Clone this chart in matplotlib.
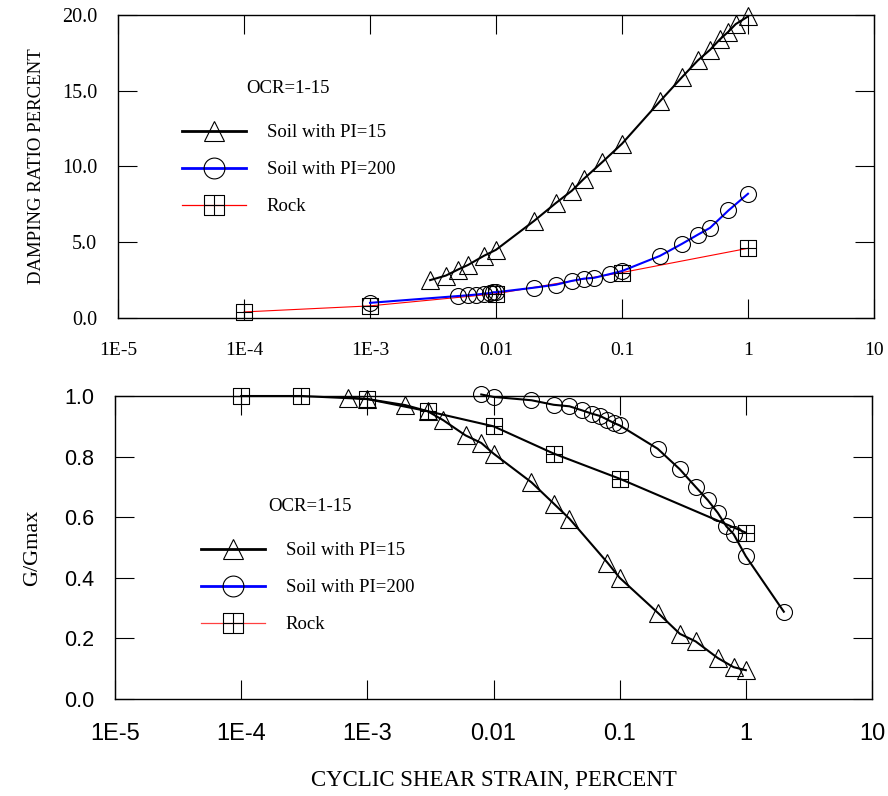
import matplotlib
matplotlib.use("Agg")
import matplotlib.pyplot as plt
from matplotlib.lines import Line2D
from matplotlib.path import Path

SERIF = "Liberation Serif"
SANS = "Liberation Sans"

# x tick positions / labels (cyclic shear strain, percent)
x_ticks = [1e-5, 1e-4, 1e-3, 1e-2, 1e-1, 1, 10]
x_labels = ["1E-5", "1E-4", "1E-3", "0.01", "0.1", "1", "10"]

# damping ratio (top panel)
d_pi15_x = [0.003, 0.004, 0.005, 0.006, 0.008, 0.01, 0.02, 0.03, 0.04, 0.05,
            0.07, 0.1, 0.2, 0.3, 0.4, 0.5, 0.6, 0.7, 0.8, 1.0]
d_pi15_y = [2.5, 2.8, 3.2, 3.5, 4.1, 4.5, 6.4, 7.6, 8.4, 9.2,
            10.3, 11.5, 14.3, 15.9, 17.0, 17.7, 18.4, 18.9, 19.4, 19.9]

d_pi200_x = [0.001, 0.005, 0.006, 0.007, 0.008, 0.009, 0.0095, 0.01, 0.02, 0.03,
             0.04, 0.05, 0.06, 0.08, 0.1, 0.2, 0.3, 0.4, 0.5, 0.7, 1.0]
d_pi200_y = [1.0, 1.45, 1.5, 1.55, 1.6, 1.65, 1.7, 1.7, 2.0, 2.2,
             2.45, 2.6, 2.65, 2.9, 3.1, 4.1, 4.9, 5.5, 5.95, 7.1, 8.2]

d_rock_x = [1e-4, 1e-3, 0.01, 0.1, 1.0]
d_rock_y = [0.4, 0.8, 1.6, 3.0, 4.6]

# modulus reduction G/Gmax (bottom panel)
g_pi15_x = [0.0007, 0.001, 0.002, 0.003, 0.004, 0.006, 0.008, 0.01, 0.02, 0.03,
            0.04, 0.08, 0.1, 0.2, 0.3, 0.4, 0.6, 0.8, 1.0]
g_pi15_y = [0.995, 0.99, 0.97, 0.95, 0.92, 0.87, 0.845, 0.81, 0.715, 0.645,
            0.595, 0.45, 0.40, 0.285, 0.215, 0.19, 0.135, 0.105, 0.095]

g_pi200_x = [0.008, 0.01, 0.02, 0.03, 0.04, 0.05, 0.06, 0.07, 0.08, 0.09,
             0.1, 0.2, 0.3, 0.4, 0.5, 0.6, 0.7, 0.8, 1.0, 2.0]
g_pi200_y = [1.005, 0.997, 0.986, 0.971, 0.966, 0.953, 0.942, 0.934, 0.922, 0.911,
             0.903, 0.826, 0.758, 0.70, 0.656, 0.614, 0.57, 0.544, 0.471, 0.288]

g_rock_x = [1e-4, 3e-4, 1e-3, 3e-3, 0.01, 0.03, 0.1, 1.0]
g_rock_y = [1.0, 1.0, 0.99, 0.95, 0.90, 0.81, 0.727, 0.549]

series_labels = ["Soil with PI=15", "Soil with PI=200", "Rock"]
legend_title = "OCR=1-15"

# square with a cross inside
box_cross = Path(
    [(-1, -1), (1, -1), (1, 1), (-1, 1), (-1, -1), (0, -1), (0, 1), (-1, 0), (1, 0)],
    [Path.MOVETO, Path.LINETO, Path.LINETO, Path.LINETO, Path.CLOSEPOLY,
     Path.MOVETO, Path.LINETO, Path.MOVETO, Path.LINETO],
)

MEW = 0.8
mk = dict(mfc="none", mec="black", mew=MEW, clip_on=False)


def style_axes(ax, ylim, yticks, yfmt, yfont, xfont):
    ax.set_xscale("log")
    ax.set_xlim(1e-5, 10)
    ax.set_ylim(*ylim)
    ax.set_xticks(x_ticks)
    ax.set_xticklabels(x_labels)
    ax.minorticks_off()
    ax.set_yticks(yticks)
    ax.set_yticklabels([yfmt % v for v in yticks])
    ax.tick_params(direction="in", length=13.5, width=0.8, top=True, right=True)
    ax.tick_params(axis="x", pad=17)
    ax.tick_params(axis="y", pad=15)
    for lab in ax.get_xticklabels():
        lab.set_fontproperties(xfont)
    for lab in ax.get_yticklabels():
        lab.set_fontproperties(yfont)
    for sp in ax.spines.values():
        sp.set_linewidth(1.0)


def add_legend(ax, colors, widths, anchor, title_xy):
    handles = [
        Line2D([], [], color=colors[0], lw=widths[0], marker="^", ms=15, mfc="none", mec="black", mew=MEW),
        Line2D([], [], color=colors[1], lw=widths[1], marker="o", ms=15, mfc="none", mec="black", mew=MEW),
        Line2D([], [], color=colors[2], lw=widths[2], marker=box_cross, ms=15, mfc="none", mec="black", mew=MEW),
    ]
    ax.legend(handles, series_labels, loc="upper left", bbox_to_anchor=anchor,
              frameon=False, borderpad=0, borderaxespad=0,
              handlelength=3.4, handletextpad=1.1, labelspacing=1.05,
              prop={"family": SERIF, "size": 13.5})
    ax.text(title_xy[0], title_xy[1], legend_title, transform=ax.transAxes,
            ha="center", va="center", family=SERIF, fontsize=13.5)


fig = plt.figure(figsize=(8.88, 7.96), dpi=100)
ax1 = fig.add_axes([0.1329, 0.6005, 0.8513, 0.3807])
ax2 = fig.add_axes([0.1295, 0.1219, 0.8525, 0.3806])

serif_ytick = {"family": SERIF, "size": 14.5}
serif_xtick = {"family": SERIF, "size": 14}
sans_tick = {"family": SANS, "size": 15.5}
sans_xtick = {"family": SANS, "size": 17}

# top panel: damping ratio
ax1.plot(d_rock_x, d_rock_y, color="red", lw=0.8, marker=box_cross, ms=12, **mk)
ax1.plot(d_pi200_x, d_pi200_y, color="blue", lw=1.5, marker="o", ms=11.5, **mk)
ax1.plot(d_pi15_x, d_pi15_y, color="black", lw=1.5, marker="^", ms=12.5, **mk)
style_axes(ax1, (0, 20), [0, 5, 10, 15, 20], "%.1f", serif_ytick, serif_xtick)
ax1.tick_params(axis="x", pad=17)
ax1.set_ylabel("DAMPING RATIO PERCENT", family=SERIF, fontsize=13.5, labelpad=12)
add_legend(ax1, ["black", "blue", "red"], [2.0, 2.0, 0.9], (0.085, 0.639), (0.225, 0.756))

# bottom panel: G/Gmax
ax2.plot(g_rock_x, g_rock_y, color="black", lw=1.5, marker=box_cross, ms=12, **mk)
ax2.plot(g_pi200_x, g_pi200_y, color="black", lw=1.5, marker="o", ms=11.5, **mk)
ax2.plot(g_pi15_x, g_pi15_y, color="black", lw=1.5, marker="^", ms=12.5, **mk)
style_axes(ax2, (0, 1), [0, 0.2, 0.4, 0.6, 0.8, 1.0], "%.1f", sans_tick, sans_xtick)
ax2.set_ylabel("G/Gmax", family=SERIF, fontsize=16, labelpad=16)
ax2.set_xlabel("CYCLIC SHEAR STRAIN, PERCENT", family=SERIF, fontsize=16.5, labelpad=18)
add_legend(ax2, ["black", "blue", "#ff4040"], [2.0, 2.0, 0.9], (0.114, 0.517), (0.258, 0.634))

fig.savefig("out.png", dpi=100)
plt.close(fig)
